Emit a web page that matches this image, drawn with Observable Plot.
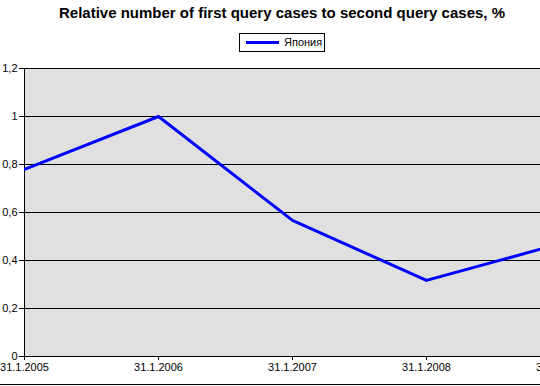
<!DOCTYPE html>
<html>
<head>
<meta charset="utf-8">
<script src="https://cdn.jsdelivr.net/npm/d3@7"></script>
<script src="https://cdn.jsdelivr.net/npm/@observablehq/plot@0.6"></script>
<style>
  html, body { margin: 0; padding: 0; background: #fff; overflow: hidden; width: 540px; height: 386px; }
  #head { position: relative; width: 540px; height: 60px; font-family: "Liberation Sans", Arial, sans-serif; color: #000; overflow: hidden; }
  #title { position: absolute; left: 0; top: 4px; width: 564px; text-align: center; font-weight: bold; font-size: 15px; white-space: nowrap; }
  #legend { position: absolute; left: 239px; top: 33px; width: 84px; height: 17px; border: 1px solid #000; background: #fff; }
  #legend .sw { position: absolute; left: 6px; top: 7px; width: 33px; height: 3px; background: #0000ff; }
  #legend .lb { position: absolute; left: 44px; top: 1px; font-size: 11px; line-height: 14px; }
  #chart { width: 540px; border-bottom: 1px solid #000; }
  #chart svg { display: block; overflow: hidden; }
</style>
</head>
<body>
<div id="head">
  <div id="title"></div>
  <div id="legend"><div class="sw"></div><div class="lb"></div></div>
</div>
<div id="chart"></div>
<script>
const titleText = "Relative number of first query cases to second query cases, %";
const seriesName = "Япония";
const dates = ["31.1.2005", "31.1.2006", "31.1.2007", "31.1.2008", "31.1.2009"];
const values = [0.78, 1.0, 0.567, 0.317, 0.47];
const yTicks = [0, 0.2, 0.4, 0.6, 0.8, 1, 1.2];

document.getElementById("title").textContent = titleText;
document.querySelector("#legend .lb").textContent = seriesName;

const data = dates.map((d, i) => ({date: d, value: values[i]}));

const chart = Plot.plot({
  width: 540,
  height: 324,
  marginTop: 8,
  marginBottom: 28,
  marginLeft: 24,
  marginRight: 0,
  style: {fontFamily: "'Liberation Sans', Arial, sans-serif", fontSize: "11px", background: "white", color: "#000"},
  x: {type: "point", domain: dates, range: [24, 560], padding: 0},
  y: {domain: [0, 1.2]},
  marks: [
    Plot.frame({fill: "#e0e0e0", stroke: null}),
    Plot.ruleY(yTicks.filter(t => t > 0), {stroke: "#000", strokeWidth: 1}),
    Plot.ruleY([0], {stroke: "#000"}),
    Plot.ruleX([dates[0]], {y1: 0, y2: 1.2, stroke: "#000"}),
    Plot.axisY(yTicks, {tickSize: 5, tickPadding: 2, label: null, stroke: "#000", tickFormat: d => String(d).replace(".", ","), fill: "#000"}),
    Plot.axisX(dates, {tickSize: 4, tickPadding: 3, label: null, stroke: "#000", fill: "#000"}),
    Plot.line(data, {x: "date", y: "value", stroke: "#0000ff", strokeWidth: 3, clip: true})
  ]
});
document.getElementById("chart").appendChild(chart);
</script>
</body>
</html>
